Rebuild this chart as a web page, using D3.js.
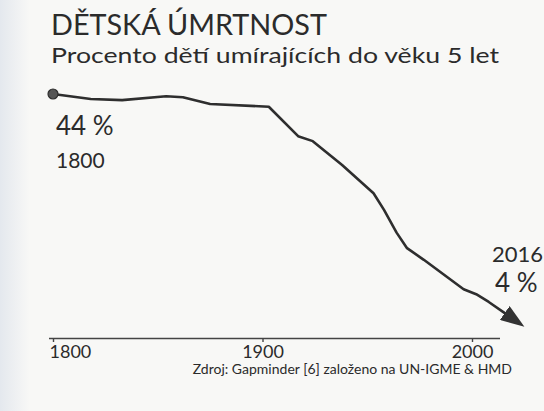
<!DOCTYPE html>
<html>
<head>
<meta charset="utf-8">
<script src="https://cdn.jsdelivr.net/npm/d3@7"></script>
<style>
  html, body { margin: 0; padding: 0; background: #f8f8f6; }
  #canvas { width: 544px; height: 411px; }
  text { font-family: Lato, "Open Sans", sans-serif; fill: #2b2b2b; }
</style>
</head>
<body>
<div id="canvas"></div>
<script>
// data
const years = [1800, 1818, 1833, 1854, 1862, 1875, 1903, 1917, 1924, 1938, 1953, 1958, 1964, 1969, 1977, 1996, 2002, 2008, 2016];
const values = [44.0, 43.1, 42.9, 43.6, 43.4, 42.2, 41.7, 36.4, 35.5, 31.2, 26.1, 23.1, 19.0, 16.2, 14.1, 8.8, 7.9, 6.5, 4.4];
const tickYears = [1800, 1900, 2000];

const title = "DĚTSKÁ ÚMRTNOST";
const subtitle = "Procento dětí umírajících do věku 5 let";
const source = "Zdroj: Gapminder [6] založeno na UN-IGME & HMD";

const svg = d3.select("#canvas")
.append("svg")
.attr("width", 544)
.attr("height", 411);

const defs = svg.append("defs");

// faint bluish edge from the photo
const grad = defs.append("linearGradient")
.attr("id", "edge")
.attr("x1", 0).attr("x2", 1);
grad.append("stop").attr("offset", 0).attr("stop-color", "#e4e8ee");
grad.append("stop").attr("offset", 1).attr("stop-color", "#f8f8f6");
svg.append("rect")
.attr("width", 30).attr("height", 411)
.attr("fill", "url(#edge)");

const x = d3.scaleLinear().domain([1800, 2000]).range([53, 472]);
const y = d3.scaleLinear().domain([0, 44]).range([338, 94]);

svg.append("text")
.attr("x", 51).attr("y", 35)
.style("font-size", "28px")
.attr("textLength", 276)
.attr("lengthAdjust", "spacingAndGlyphs")
.text(title);

svg.append("text")
.attr("x", 51).attr("y", 63)
.style("font-size", "22px")
.attr("textLength", 448)
.attr("lengthAdjust", "spacingAndGlyphs")
.text(subtitle);

// arrow head
defs.append("marker")
.attr("id", "arrow")
.attr("markerUnits", "userSpaceOnUse")
.attr("viewBox", "0 0 24 17")
.attr("refX", 1).attr("refY", 8.5)
.attr("markerWidth", 24).attr("markerHeight", 17)
.attr("orient", "auto")
.append("path")
.attr("d", "M0,0 L24,8.5 L0,17 Z")
.attr("fill", "#333");

const pts = years.map((yr, i) => [yr, values[i]]);
const line = d3.line()
.x(d => x(d[0]))
.y(d => y(d[1]));

svg.append("path")
.datum(pts)
.attr("d", line)
.attr("fill", "none")
.attr("stroke", "#2e2e2e")
.attr("stroke-width", 2.6)
.attr("stroke-linejoin", "round")
.attr("marker-end", "url(#arrow)");

svg.append("circle")
.attr("cx", x(years[0]))
.attr("cy", y(values[0]))
.attr("r", 5)
.attr("fill", "#555")
.attr("stroke", "#2e2e2e")
.attr("stroke-width", 1.2);

// labels at both ends
svg.append("text")
.attr("x", 56).attr("y", 135)
.style("font-size", "26px")
.text(Math.round(values[0]) + " %");
svg.append("text")
.attr("x", 56).attr("y", 168)
.style("font-size", "21px")
.text(years[0]);

svg.append("text")
.attr("x", 492).attr("y", 262)
.style("font-size", "22px")
.text(years[years.length - 1]);
svg.append("text")
.attr("x", 495).attr("y", 292)
.style("font-size", "26px")
.text(Math.round(values[values.length - 1]) + " %");

// x axis
const axis = svg.append("g")
.attr("transform", "translate(0,338)")
.call(d3.axisBottom(x).tickValues(tickYears).tickFormat(d3.format("d")).tickSize(4).tickPadding(3));
axis.select(".domain")
.attr("d", "M49,0.5H500")
.attr("stroke", "#444")
.attr("stroke-width", 1.6);
axis.selectAll(".tick line").attr("stroke", "#444").attr("stroke-width", 1.4);
axis.selectAll(".tick text")
.style("font-family", "Lato, sans-serif")
.style("font-size", "18px")
.attr("fill", "#2b2b2b");
// first label sits to the right of its tick
axis.selectAll(".tick text")
.filter(d => d === tickYears[0])
.attr("text-anchor", "start")
.attr("x", -4);

svg.append("text")
.attr("x", 512).attr("y", 374)
.attr("text-anchor", "end")
.style("font-size", "14px")
.text(source);
</script>
</body>
</html>
